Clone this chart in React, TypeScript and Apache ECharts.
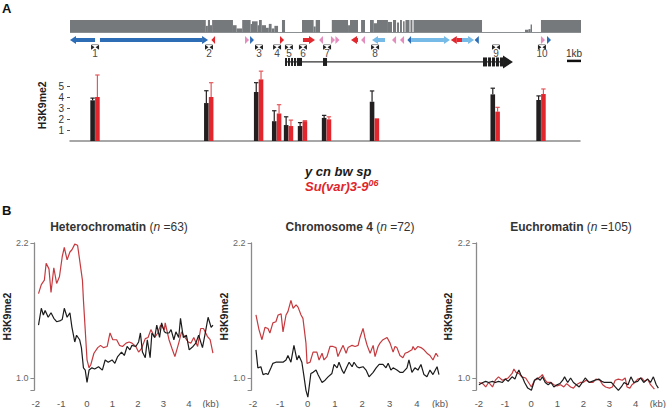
import React, { useEffect, useRef } from 'react';
import * as echarts from 'echarts';

const FONT = '"Liberation Sans", Arial, Helvetica, sans-serif';
const RED_BAR = '#e1262d';
const RED_ERR = '#e5575b';
const BLACK = '#231f20';
const RED_LINE = '#c53a3f';
const BLACK_LINE = '#1c1c1c';
const GRAY_TRACK = '#76797c';
const ARROW_COLOURS = ['#2d6db5', '#76bbe8', '#e2282e', '#e58cbf'];

// ---------- Panel A data (positions in kb along the locus) ----------
const primerLabels = ['1', '2', '3', '4', '5', '6', '7', '8', '9', '10'];
const primerKb = [1.79, 9.93, 13.5, 14.79, 15.64, 16.64, 18.36, 21.79, 30.43, 33.71];
const wildTypeH3K9me2 = [3.7, 3.45, 4.45, 1.8, 1.45, 1.36, 2.1, 3.57, 4.24, 3.73];
const wildTypeErr = [0.2, 1.12, 0.85, 0.95, 0.75, 0.31, 0.23, 0.98, 0.56, 0.37];
const suvarH3K9me2 = [4.0, 4.0, 5.6, 2.5, 1.36, 1.8, 1.97, 2.06, 2.67, 4.27];
const suvarErr = [2.0, 1.3, 0.75, 0.8, 0.54, 0.05, 0.23, 0, 0.39, 0.46];
const barTicks = [1, 2, 3, 4, 5];

// unique-sequence density track: [startKb, endKb, relative height]
const densityTrack = [
  [0, 9.7, 1], [9.7, 9.85, 0.55], [9.85, 10.0, 1], [10.0, 10.15, 0.6], [10.15, 11.64, 1],
  [11.64, 11.9, 0.6], [11.9, 12.3, 0.35], [12.3, 12.9, 1], [12.9, 13.0, 0.7], [13.0, 13.4, 0.9],
  [13.4, 13.5, 0.6], [13.5, 13.7, 1], [13.7, 14.0, 0.6], [14.0, 14.2, 0.4], [14.2, 14.4, 0.7],
  [14.4, 14.6, 0.35], [14.6, 14.86, 0.55], [15.14, 15.36, 1],
  [16.57, 17.4, 1], [17.4, 17.55, 0.5], [17.55, 17.86, 1],
  [18.7, 19.86, 1], [19.86, 20.0, 0.6], [20.0, 20.57, 1], [20.79, 21.07, 1],
  [21.43, 21.7, 1], [21.7, 21.93, 0.75], [21.93, 22.71, 1], [22.71, 23.0, 0.85],
  [23.07, 23.29, 1], [23.36, 23.5, 0.8], [23.57, 23.71, 1], [23.79, 23.9, 0.9],
  [23.96, 24.25, 1], [24.32, 24.46, 1], [24.54, 29.43, 1],
  [30.5, 30.6, 0.08], [32.5, 32.75, 0.25], [32.75, 32.9, 0.3], [32.9, 33.0, 0.65],
  [33.64, 36.5, 1],
];
const trackLength = [0, 36.5];

// transposon / repeat arrows: [startKb, endKb, direction (1 right, -1 left), colour index]
const arrowFeatures = [
  [0.0, 1.79, -1, 0], [2.14, 9.86, 1, 0], [10.1, 10.36, -1, 2], [12.5, 12.79, 1, 3], [12.86, 13.14, 1, 0],
  [15.0, 15.29, 1, 2], [16.64, 17.5, 1, 2], [17.79, 18.07, -1, 3], [18.64, 18.93, 1, 3], [18.96, 19.25, 1, 3],
  [20.07, 20.57, -1, 2], [20.79, 21.07, -1, 3], [21.57, 22.5, -1, 1], [23.0, 23.29, -1, 3], [23.57, 23.86, -1, 3],
  [24.1, 24.36, -1, 0], [24.36, 27.14, 1, 1], [27.2, 28.0, -1, 2], [28.0, 28.86, 1, 1], [28.9, 29.2, -1, 0],
  [33.64, 33.93, 1, 3], [34.07, 34.36, 1, 0],
];

// gene model
const geneSpan = [15.36, 30.93];
const geneExons = [[15.36, 15.5], [15.57, 15.71], [15.79, 15.93], [16.0, 16.14], [16.21, 16.57], [18.07, 18.36]];
const geneUtrStripes = [[29.5, 29.79], [29.86, 30.07], [30.14, 30.36], [30.43, 30.64], [30.71, 30.93]];
const geneArrowTip = 31.64;
const scaleBarKb = [35.5, 36.5];
const scaleBarLabel = '1kb';

// ---------- Panel B data: [kb from TSS, H3K9me2] ----------
const hetSuvar = [[-1.89,1.75],[-1.78,1.83],[-1.66,1.87],[-1.59,2.02],[-1.48,1.97],[-1.40,1.76],[-1.29,1.98],[-1.18,1.84],[-1.07,1.90],[-0.96,2.08],[-0.88,2.16],[-0.77,2.05],[-0.66,2.12],[-0.58,2.14],[-0.47,2.19],[-0.36,2.18],[-0.28,2.05],[-0.17,1.87],[-0.13,1.69],[0.01,1.16],[0.09,1.09],[0.16,1.12],[0.28,1.22],[0.43,1.27],[0.54,1.29],[0.65,1.27],[0.80,1.28],[0.91,1.40],[1.02,1.34],[1.17,1.34],[1.28,1.29],[1.40,1.28],[1.54,1.31],[1.66,1.32],[1.77,1.31],[1.92,1.28],[2.03,1.23],[2.14,1.26],[2.29,1.35],[2.40,1.36],[2.51,1.43],[2.66,1.36],[2.78,1.40],[2.89,1.47],[3.04,1.43],[3.07,1.49],[3.22,1.34],[3.34,1.26],[3.45,1.19],[3.60,1.31],[3.71,1.41],[3.82,1.37],[3.97,1.32],[4.08,1.31],[4.19,1.36],[4.34,1.28],[4.46,1.44],[4.57,1.44],[4.72,1.37],[4.83,1.34],[4.94,1.22]];
const hetWt = [[-1.89,1.47],[-1.78,1.62],[-1.70,1.56],[-1.63,1.60],[-1.51,1.54],[-1.40,1.58],[-1.29,1.53],[-1.18,1.50],[-1.03,1.51],[-0.96,1.52],[-0.88,1.62],[-0.77,1.54],[-0.66,1.58],[-0.58,1.45],[-0.47,1.32],[-0.40,1.38],[-0.28,1.34],[-0.21,1.27],[-0.13,1.09],[-0.06,1.07],[0.01,0.96],[0.09,1.07],[0.20,1.09],[0.31,1.08],[0.46,1.10],[0.61,1.07],[0.72,1.16],[0.84,1.14],[0.99,1.16],[1.10,1.13],[1.21,1.19],[1.36,1.23],[1.47,1.20],[1.58,1.28],[1.69,1.25],[1.77,1.29],[1.92,1.28],[2.03,1.32],[2.10,1.40],[2.18,1.23],[2.29,1.18],[2.37,1.34],[2.48,1.18],[2.55,1.40],[2.66,1.36],[2.74,1.47],[2.85,1.36],[2.93,1.49],[3.04,1.41],[3.11,1.40],[3.22,1.40],[3.30,1.43],[3.41,1.34],[3.49,1.41],[3.60,1.36],[3.67,1.53],[3.78,1.36],[3.90,1.38],[4.01,1.25],[4.16,1.28],[4.27,1.31],[4.38,1.38],[4.53,1.27],[4.64,1.40],[4.75,1.54],[4.87,1.45],[4.94,1.47]];
const chr4Suvar = [[-1.89,1.56],[-1.78,1.43],[-1.67,1.34],[-1.56,1.45],[-1.45,1.44],[-1.38,1.40],[-1.27,1.49],[-1.16,1.50],[-1.08,1.56],[-0.97,1.57],[-0.90,1.41],[-0.79,1.56],[-0.72,1.59],[-0.61,1.69],[-0.53,1.62],[-0.42,1.65],[-0.35,1.63],[-0.24,1.56],[-0.17,1.53],[-0.06,1.31],[-0.02,1.13],[0.09,1.14],[0.20,1.23],[0.34,1.23],[0.42,1.16],[0.53,1.22],[0.60,1.16],[0.71,1.19],[0.82,1.28],[0.93,1.28],[1.04,1.27],[1.11,1.19],[1.22,1.25],[1.30,1.29],[1.41,1.22],[1.48,1.27],[1.63,1.29],[1.74,1.28],[1.85,1.29],[1.92,1.36],[2.03,1.44],[2.10,1.36],[2.18,1.29],[2.29,1.22],[2.40,1.29],[2.47,1.19],[2.58,1.28],[2.65,1.31],[2.76,1.34],[2.91,1.36],[3.02,1.31],[3.13,1.23],[3.20,1.28],[3.27,1.27],[3.38,1.20],[3.49,1.18],[3.57,1.22],[3.68,1.23],[3.82,1.25],[3.86,1.28],[3.93,1.25],[4.04,1.28],[4.15,1.27],[4.26,1.25],[4.37,1.22],[4.48,1.20],[4.59,1.16],[4.70,1.22],[4.78,1.19]];
const chr4Wt = [[-1.89,1.25],[-1.82,1.09],[-1.71,1.10],[-1.63,1.03],[-1.52,1.04],[-1.45,1.03],[-1.34,1.09],[-1.27,1.13],[-1.16,1.14],[-1.05,1.14],[-0.90,1.14],[-0.79,1.16],[-0.72,1.20],[-0.61,1.14],[-0.50,1.29],[-0.39,1.16],[-0.32,1.20],[-0.21,1.14],[-0.13,1.01],[-0.06,0.89],[0.01,0.83],[0.12,1.04],[0.20,1.05],[0.31,1.07],[0.38,1.03],[0.53,0.96],[0.64,0.98],[0.75,1.01],[0.89,1.04],[0.97,1.12],[1.08,1.09],[1.15,1.14],[1.26,1.07],[1.33,1.04],[1.44,1.10],[1.52,1.14],[1.63,1.10],[1.70,1.14],[1.81,1.10],[1.88,1.09],[2.03,1.10],[2.14,1.07],[2.25,1.01],[2.40,1.05],[2.51,1.09],[2.62,1.12],[2.76,1.12],[2.87,1.09],[2.95,1.13],[3.05,1.07],[3.13,1.09],[3.27,1.07],[3.38,1.05],[3.49,1.05],[3.64,1.09],[3.71,1.16],[3.82,1.05],[3.93,1.09],[4.04,1.07],[4.15,1.12],[4.26,1.03],[4.37,1.01],[4.48,1.07],[4.59,1.03],[4.74,1.10],[4.81,1.03]];
const euSuvar = [[-2.00,0.96],[-1.85,0.95],[-1.74,0.92],[-1.63,0.96],[-1.48,0.92],[-1.37,0.98],[-1.25,1.01],[-1.10,0.98],[-0.99,0.99],[-0.88,1.00],[-0.73,1.04],[-0.66,1.08],[-0.58,1.05],[-0.47,1.04],[-0.36,1.01],[-0.21,1.00],[-0.10,0.96],[0.01,0.92],[0.13,0.98],[0.24,0.99],[0.35,1.01],[0.43,1.03],[0.54,0.98],[0.61,0.96],[0.76,0.96],[0.87,0.94],[0.99,0.93],[1.13,0.94],[1.25,0.92],[1.36,0.95],[1.51,0.92],[1.62,0.91],[1.73,0.94],[1.88,0.96],[1.99,0.96],[2.10,0.98],[2.25,0.96],[2.37,0.96],[2.48,0.99],[2.63,0.98],[2.74,0.94],[2.85,0.92],[3.00,0.91],[3.11,0.92],[3.22,0.98],[3.34,0.99],[3.49,0.98],[3.60,1.00],[3.67,0.92],[3.78,0.91],[3.86,0.94],[3.97,0.96],[4.08,0.99],[4.23,1.00],[4.34,0.97],[4.46,0.99],[4.57,0.94],[4.72,0.90]];
const euWt = [[-2.00,0.94],[-1.85,0.96],[-1.74,0.97],[-1.63,0.96],[-1.48,0.97],[-1.37,0.96],[-1.25,0.97],[-1.10,0.96],[-0.99,0.99],[-0.88,0.97],[-0.73,1.01],[-0.62,0.99],[-0.54,1.04],[-0.47,1.07],[-0.40,1.03],[-0.32,1.00],[-0.25,0.96],[-0.13,0.91],[0.01,0.89],[0.13,0.98],[0.24,1.00],[0.35,0.98],[0.43,1.01],[0.54,0.96],[0.65,0.94],[0.76,0.96],[0.87,0.92],[0.99,0.94],[1.10,0.95],[1.21,0.98],[1.28,1.01],[1.40,0.96],[1.51,1.00],[1.62,0.96],[1.73,0.94],[1.84,0.92],[1.96,0.96],[2.07,1.00],[2.22,0.96],[2.33,0.97],[2.44,0.98],[2.59,0.99],[2.70,0.97],[2.81,0.96],[2.96,0.96],[3.07,0.96],[3.22,0.92],[3.34,0.89],[3.45,0.92],[3.56,0.96],[3.71,0.94],[3.82,1.01],[3.93,0.96],[4.08,0.97],[4.19,1.00],[4.31,0.96],[4.46,0.99],[4.57,0.96],[4.68,1.01],[4.79,0.94],[4.87,0.91]];
const profileYLabels = [1.0, 2.2];
const profileXLabels = [-2, -1, 0, 1, 2, 3, 4];
const panelBTitles = [
  { name: 'Heterochromatin', n: '63' },
  { name: 'Chromosome 4', n: '72' },
  { name: 'Euchromatin', n: '105' },
];

// lane positions inside the track grid (y axis units)
const LANE = { arrows: -0.54, primers: -1.08, primerText: -1.56, gene: -2.23, scaleText: -1.6, scaleBar: -2.15 };

function text(x: number, y: number, str: string, font: string, fill: string, align = 'center', vAlign = 'middle') {
  return {
    type: 'text', x, y,
    style: { text: str, font, fill, align, textAlign: align, verticalAlign: vAlign, textVerticalAlign: vAlign },
  };
}

function buildOption() {
  const trackSeries: any[] = [
    {
      type: 'custom', xAxisIndex: 0, yAxisIndex: 0, silent: true,
      data: densityTrack, encode: { x: [0, 1], y: 2 },
      renderItem: (_p: any, api: any) => {
        const p0 = api.coord([api.value(0), api.value(2)]);
        const p1 = api.coord([api.value(1), 0]);
        return { type: 'rect', shape: { x: p0[0], y: p0[1], width: p1[0] - p0[0], height: p1[1] - p0[1] }, style: { fill: GRAY_TRACK } };
      },
    },
    {
      type: 'custom', xAxisIndex: 0, yAxisIndex: 0, silent: true,
      data: [trackLength], encode: { x: [0, 1] },
      renderItem: (_p: any, api: any) => {
        const a = api.coord([api.value(0), 0]);
        const b = api.coord([api.value(1), 0]);
        return { type: 'line', shape: { x1: a[0], y1: a[1] - 0.5, x2: b[0], y2: b[1] - 0.5 }, style: { stroke: '#8c8f92', lineWidth: 1 } };
      },
    },
    {
      type: 'custom', xAxisIndex: 0, yAxisIndex: 0, silent: true,
      data: arrowFeatures.map((a) => [a[0], a[1]]), encode: { x: [0, 1] },
      renderItem: (p: any, api: any) => {
        const f = arrowFeatures[p.dataIndex];
        const colour = ARROW_COLOURS[f[3]];
        const a = api.coord([f[0], LANE.arrows]);
        const b = api.coord([f[1], LANE.arrows]);
        const y = a[1];
        const headLen = 6;
        const children: any[] = [];
        if (f[2] > 0) {
          const base = Math.max(a[0], b[0] - headLen);
          if (base > a[0]) children.push({ type: 'rect', shape: { x: a[0], y: y - 2, width: base - a[0], height: 4 }, style: { fill: colour } });
          children.push({ type: 'polygon', shape: { points: [[base, y - 4], [b[0], y], [base, y + 4]] }, style: { fill: colour } });
        } else {
          const base = Math.min(b[0], a[0] + headLen);
          if (b[0] > base) children.push({ type: 'rect', shape: { x: base, y: y - 2, width: b[0] - base, height: 4 }, style: { fill: colour } });
          children.push({ type: 'polygon', shape: { points: [[base, y - 4], [a[0], y], [base, y + 4]] }, style: { fill: colour } });
        }
        return { type: 'group', children };
      },
    },
    {
      type: 'custom', xAxisIndex: 0, yAxisIndex: 0, silent: true,
      data: primerKb.map((x) => [x]), encode: { x: 0 },
      renderItem: (p: any, api: any) => {
        const c = api.coord([api.value(0), LANE.primers]);
        const t = api.coord([api.value(0), LANE.primerText]);
        const x = c[0], y = c[1];
        return {
          type: 'group',
          children: [
            { type: 'polygon', shape: { points: [[x - 4, y - 2.2], [x - 0.5, y + 0.3], [x - 4, y + 2.8]] }, style: { fill: '#222' } },
            { type: 'polygon', shape: { points: [[x + 4, y - 2.2], [x + 0.5, y + 0.3], [x + 4, y + 2.8]] }, style: { fill: '#222' } },
            { type: 'line', shape: { x1: x - 3.5, y1: y - 2.4, x2: x + 3.5, y2: y - 2.4 }, style: { stroke: '#555', lineWidth: 0.6 } },
            text(x, t[1], primerLabels[p.dataIndex], `10px ${FONT}`, '#4a4a4a'),
          ],
        };
      },
    },
    {
      type: 'custom', xAxisIndex: 0, yAxisIndex: 0, silent: true,
      data: [geneSpan], encode: { x: [0, 1] },
      renderItem: (_p: any, api: any) => {
        const a = api.coord([geneSpan[0], LANE.gene]);
        const b = api.coord([geneSpan[1], LANE.gene]);
        const y = a[1];
        const children: any[] = [
          { type: 'line', shape: { x1: a[0], y1: y, x2: b[0], y2: y }, style: { stroke: '#333', lineWidth: 1.2 } },
        ];
        geneExons.forEach((e) => {
          const s = api.coord([e[0], LANE.gene])[0];
          const t = api.coord([e[1], LANE.gene])[0];
          children.push({ type: 'rect', shape: { x: s, y: y - 4, width: t - s, height: 8 }, style: { fill: '#1e1e1e' } });
        });
        geneUtrStripes.forEach((e) => {
          const s = api.coord([e[0], LANE.gene])[0];
          const t = api.coord([e[1], LANE.gene])[0];
          children.push({ type: 'rect', shape: { x: s, y: y - 4.5, width: t - s, height: 9 }, style: { fill: '#1e1e1e' } });
        });
        const tip = api.coord([geneArrowTip, LANE.gene])[0];
        children.push({ type: 'polygon', shape: { points: [[b[0], y - 6.5], [tip, y], [b[0], y + 6.5]] }, style: { fill: '#1e1e1e' } });
        return { type: 'group', children };
      },
    },
    {
      type: 'custom', xAxisIndex: 0, yAxisIndex: 0, silent: true,
      data: [scaleBarKb], encode: { x: [0, 1] },
      renderItem: (_p: any, api: any) => {
        const a = api.coord([scaleBarKb[0], LANE.scaleBar]);
        const b = api.coord([scaleBarKb[1], LANE.scaleBar]);
        const t = api.coord([(scaleBarKb[0] + scaleBarKb[1]) / 2, LANE.scaleText]);
        return {
          type: 'group',
          children: [
            { type: 'line', shape: { x1: a[0], y1: a[1], x2: b[0], y2: b[1] }, style: { stroke: '#111', lineWidth: 2.5 } },
            text(t[0], t[1], scaleBarLabel, `10px ${FONT}`, '#333'),
          ],
        };
      },
    },
  ];

  const barSeries = (vals: number[], errs: number[], fill: string, errColour: string, offset: number) => ({
    type: 'custom', xAxisIndex: 1, yAxisIndex: 1, silent: true,
    data: primerKb.map((x, i) => [x, vals[i], errs[i]]), encode: { x: 0, y: 1 },
    renderItem: (_p: any, api: any) => {
      const x = api.value(0), v = api.value(1), e = api.value(2);
      const base = api.coord([x, 0]);
      const top = api.coord([x, v]);
      const et = api.coord([x, v + e]);
      const cx = base[0] + offset;
      const w = 4.6;
      const children: any[] = [];
      if (e > 0) {
        children.push({ type: 'line', shape: { x1: cx, y1: top[1], x2: cx, y2: et[1] }, style: { stroke: errColour, lineWidth: 1.2 } });
        children.push({ type: 'line', shape: { x1: cx - 2.2, y1: et[1], x2: cx + 2.2, y2: et[1] }, style: { stroke: errColour, lineWidth: 1.2 } });
      }
      children.push({ type: 'rect', shape: { x: cx - w / 2, y: top[1], width: w, height: base[1] - top[1] }, style: { fill } });
      return { type: 'group', children };
    },
  });

  const bGrids = [
    { left: 25.7, width: 187.5, min: -2.05, gap: 10 },
    { left: 251.6, width: 191.2, min: -2.05, gap: 2 },
    { left: 476.3, width: 189, min: -2.1, gap: 8 },
  ];
  const profiles = [[hetSuvar, hetWt], [chr4Suvar, chr4Wt], [euSuvar, euWt]];
  const titleCentres = [119, 350, 571];

  const grid: any[] = [
    { left: 70, top: 15, width: 511, height: 55 },
    { left: 70, top: 69.5, width: 510, height: 71.5 },
    ...bGrids.map((g) => ({ left: g.left, top: 243, width: g.width, height: 147 })),
  ];

  const hidden = { show: false };
  const xAxis: any[] = [
    { type: 'value', gridIndex: 0, min: 0, max: 36.5, show: false },
    {
      type: 'value', gridIndex: 1, min: 0, max: 36.5,
      axisLine: { show: true, onZero: false, lineStyle: { color: '#8a8a8a', width: 1.5 } },
      axisTick: hidden, axisLabel: hidden, splitLine: hidden,
    },
    ...bGrids.map((g, i) => ({
      type: 'value', gridIndex: i + 2, min: g.min, max: 4.95,
      axisLine: { show: false, onZero: false }, axisTick: hidden, splitLine: hidden,
      axisLabel: {
        customValues: [...profileXLabels, 4.85],
        formatter: (v: number) => (v > 4.5 ? '(kb)' : String(v)),
        color: '#555', fontSize: 9.5, fontFamily: FONT, margin: 8,
      },
    })),
  ];
  const yAxis: any[] = [
    { type: 'value', gridIndex: 0, min: -2.85, max: 1.385, show: false },
    {
      type: 'value', gridIndex: 1, min: 0, max: 6.5,
      name: 'H3K9me2', nameLocation: 'middle', nameRotate: 90, nameGap: 12,
      nameTextStyle: { fontWeight: 'bold', fontSize: 10.5, color: '#222', fontFamily: FONT },
      axisLine: { show: false, onZero: false }, splitLine: hidden,
      axisTick: { show: true, customValues: barTicks, length: 3, lineStyle: { color: '#555' } },
      axisLabel: { customValues: barTicks, color: '#333', fontSize: 10, fontFamily: FONT, margin: 6 },
    },
    ...bGrids.map((g, i) => ({
      type: 'value', gridIndex: i + 2, min: 0.893, max: 2.2,
      name: 'H3K9me2', nameLocation: 'middle', nameRotate: 90, nameGap: g.gap,
      nameTextStyle: { fontWeight: 'bold', fontSize: 10.5, color: '#222', fontFamily: FONT },
      axisLine: { show: true, onZero: false, lineStyle: { color: '#8a8a8a', width: 1.3 } },
      axisTick: { show: true, customValues: [0.893, ...profileYLabels], length: 4, lineStyle: { color: '#8a8a8a' } },
      axisLabel: { customValues: profileYLabels, formatter: (v: number) => v.toFixed(1), color: '#666', fontSize: 9, fontFamily: FONT, margin: 6 },
      splitLine: hidden,
    })),
  ];

  const lineSeries: any[] = [];
  profiles.forEach((pair, i) => {
    lineSeries.push({
      type: 'line', xAxisIndex: i + 2, yAxisIndex: i + 2, data: pair[0], symbol: 'none', clip: false, silent: true,
      lineStyle: { color: RED_LINE, width: 1.2 },
    });
    lineSeries.push({
      type: 'line', xAxisIndex: i + 2, yAxisIndex: i + 2, data: pair[1], symbol: 'none', clip: false, silent: true,
      lineStyle: { color: BLACK_LINE, width: 1.2 },
    });
  });

  const graphic: any[] = [
    text(2, 8, 'A', `bold 13px ${FONT}`, '#111', 'left'),
    text(2, 210, 'B', `bold 13px ${FONT}`, '#111', 'left'),
    text(305, 171, 'y cn bw sp', `italic bold 13px ${FONT}`, '#1a1a1a', 'left'),
    {
      type: 'text', x: 305, y: 186,
      style: {
        text: '{m|Su(var)3-9}{s|06}',
        align: 'left', textAlign: 'left', verticalAlign: 'middle', textVerticalAlign: 'middle',
        rich: {
          m: { font: `italic bold 13px ${FONT}`, fill: '#e0262c', color: '#e0262c', lineHeight: 16 },
          s: { font: `italic bold 9px ${FONT}`, fill: '#e0262c', color: '#e0262c', lineHeight: 10, verticalAlign: 'top' },
        },
      },
    },
    ...panelBTitles.map((t, i) => ({
      type: 'text', x: titleCentres[i], y: 227,
      style: {
        text: `{b|${t.name}}{r| (}{i|n}{r| =${t.n})}`,
        align: 'center', textAlign: 'center', verticalAlign: 'middle', textVerticalAlign: 'middle',
        rich: {
          b: { font: `bold 12px ${FONT}`, fill: '#333', color: '#333' },
          r: { font: `12px ${FONT}`, fill: '#333', color: '#333' },
          i: { font: `italic 12px ${FONT}`, fill: '#333', color: '#333' },
        },
      },
    })),
  ];

  return {
    animation: false,
    backgroundColor: '#fff',
    textStyle: { fontFamily: FONT },
    grid, xAxis, yAxis, graphic,
    series: [
      ...trackSeries,
      barSeries(wildTypeH3K9me2, wildTypeErr, BLACK, BLACK, -2.4),
      barSeries(suvarH3K9me2, suvarErr, RED_BAR, RED_ERR, 2.4),
      ...lineSeries,
    ],
  };
}

export default function App() {
  const ref = useRef<HTMLDivElement>(null);
  useEffect(() => {
    document.body.style.margin = '0';
    const chart = echarts.init(ref.current!, null, { renderer: 'svg' });
    chart.setOption(buildOption() as any);
    return () => chart.dispose();
  }, []);
  return <div ref={ref} style={{ width: 669, height: 408 }} />;
}
